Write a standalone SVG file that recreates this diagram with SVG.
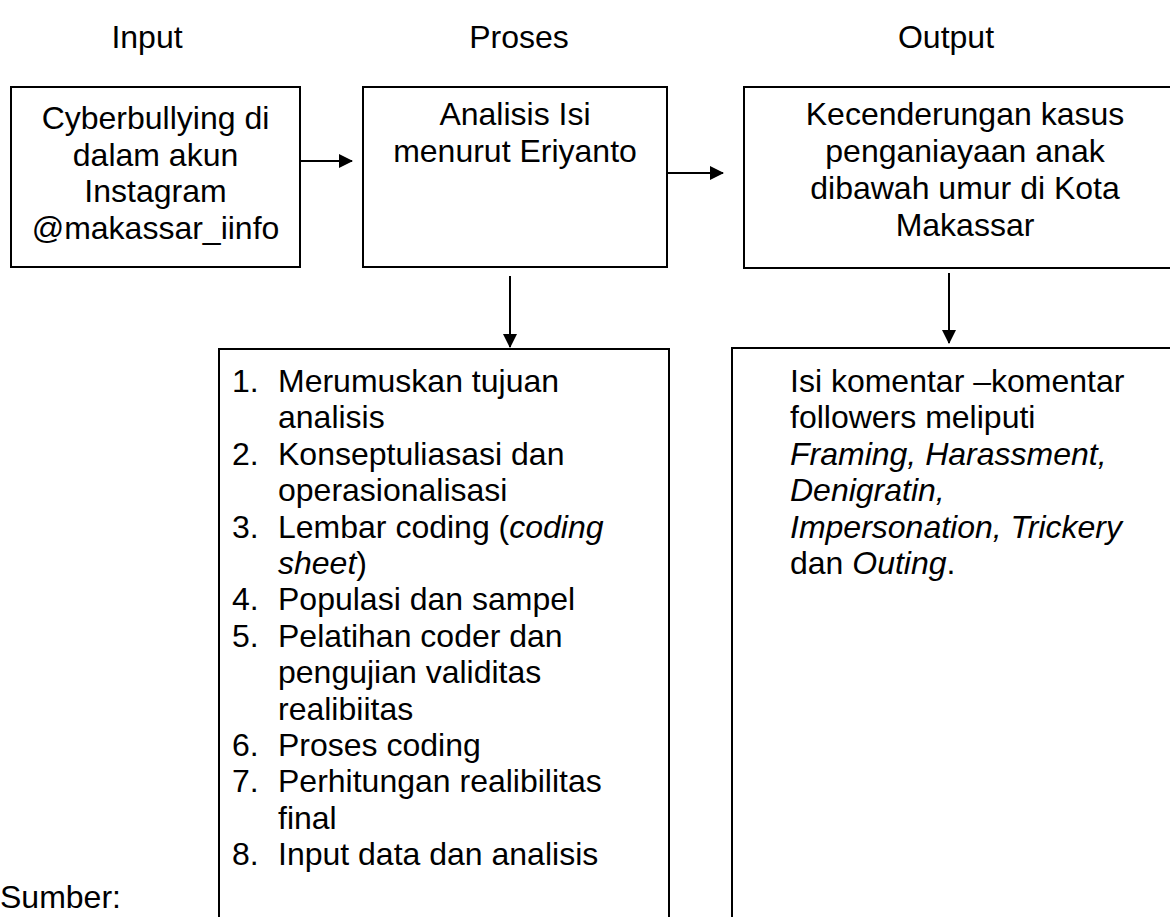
<svg xmlns="http://www.w3.org/2000/svg" width="1170" height="917" viewBox="0 0 1170 917">
<style>
text{font-family:"Liberation Sans",Arial,sans-serif;font-size:32px;fill:#000}
.c{text-anchor:middle}
.box{fill:#fff;stroke:#000;stroke-width:2}
.ln{stroke:#000;stroke-width:2;fill:none}
.i{font-style:italic}
</style>
<defs>
<marker id="ah" markerWidth="14" markerHeight="14" refX="13" refY="7" orient="auto" markerUnits="userSpaceOnUse">
<path d="M0,0 L14,7 L0,14 Z" fill="#000"/>
</marker>
</defs>
<rect width="1170" height="917" fill="#fff"/>
<g id="headers">
<text x="147" y="48" class="c">Input</text>
<text x="519" y="48" class="c">Proses</text>
<text x="946" y="48" class="c">Output</text>
</g>
<g id="input">
<rect class="box" x="11" y="87" width="289" height="180"/>
<text x="155.5" y="129" class="c">Cyberbullying di</text>
<text x="155.5" y="166" class="c">dalam akun</text>
<text x="155.5" y="202" class="c">Instagram</text>
<text x="155.5" y="239" class="c">@makassar_iinfo</text>
</g>
<g id="proses">
<rect class="box" x="363" y="87" width="304" height="180"/>
<text x="515" y="125" class="c">Analisis Isi</text>
<text x="515" y="162" class="c">menurut Eriyanto</text>
</g>
<g id="output">
<rect class="box" x="744" y="87" width="442" height="181"/>
<text x="965" y="125" class="c">Kecenderungan kasus</text>
<text x="965" y="162" class="c">penganiayaan anak</text>
<text x="965" y="199" class="c">dibawah umur di Kota</text>
<text x="965" y="236" class="c">Makassar</text>
</g>
<g id="steps">
<rect class="box" x="219" y="349" width="450" height="600"/>
<text x="232" y="392">1.</text><text x="278" y="392">Merumuskan tujuan</text>
<text x="278" y="428.4">analisis</text>
<text x="232" y="464.8">2.</text><text x="278" y="464.8">Konseptuliasasi dan</text>
<text x="278" y="501.2">operasionalisasi</text>
<text x="232" y="537.6">3.</text><text x="278" y="537.6">Lembar coding (<tspan class="i">coding</tspan></text>
<text x="278" y="574"><tspan class="i">sheet</tspan>)</text>
<text x="232" y="610.4">4.</text><text x="278" y="610.4">Populasi dan sampel</text>
<text x="232" y="646.8">5.</text><text x="278" y="646.8">Pelatihan coder dan</text>
<text x="278" y="683.2">pengujian validitas</text>
<text x="278" y="719.6">realibiitas</text>
<text x="232" y="756">6.</text><text x="278" y="756">Proses coding</text>
<text x="232" y="792.4">7.</text><text x="278" y="792.4">Perhitungan realibilitas</text>
<text x="278" y="828.8">final</text>
<text x="232" y="865.2">8.</text><text x="278" y="865.2">Input data dan analisis</text>
</g>
<g id="komentar">
<rect class="box" x="732" y="348" width="460" height="600"/>
<text x="790" y="392">Isi komentar –komentar</text>
<text x="790" y="428.4">followers meliputi</text>
<text x="790" y="464.8" class="i">Framing, Harassment,</text>
<text x="790" y="501.2" class="i">Denigratin,</text>
<text x="790" y="537.6" class="i">Impersonation, Trickery</text>
<text x="790" y="574">dan <tspan class="i">Outing</tspan>.</text>
</g>
<g id="sumber">
<text x="0" y="908">Sumber:</text>
</g>
<g id="connectors">
<line class="ln" x1="300" y1="161" x2="352" y2="161" marker-end="url(#ah)"/>
<line class="ln" x1="667" y1="173" x2="723" y2="173" marker-end="url(#ah)"/>
<line class="ln" x1="510" y1="276" x2="510" y2="347" marker-end="url(#ah)"/>
<line class="ln" x1="949" y1="273" x2="949" y2="343" marker-end="url(#ah)"/>
</g>
</svg>
